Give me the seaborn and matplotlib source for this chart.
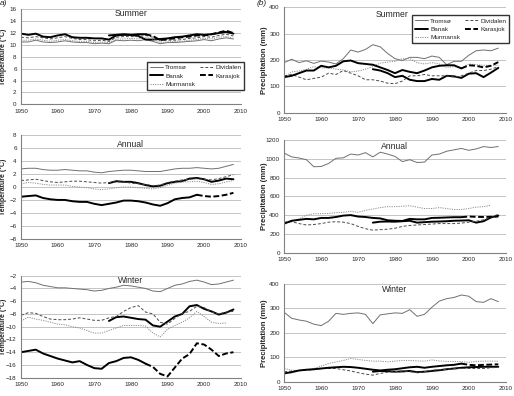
import numpy as np
import pandas as pd
import matplotlib
matplotlib.use("Agg")
import matplotlib.pyplot as plt
from matplotlib.lines import Line2D
import seaborn as sns

nan = np.nan
years = np.arange(1950, 2009, 2)

# --- temperature (deg C) ---
temp_summer = {
    "Tromsø":    [10.5, 10.5, 10.8, 10.5, 10.4, 10.5, 10.7, 10.5, 10.4, 10.4, 10.2, 10.3, 10.2, 10.8, 10.7,
                  10.8, 10.7, 10.9, 10.6, 10.2, 10.4, 10.4, 10.5, 10.6, 10.7, 10.9, 10.7, 11.0, 11.2, 11.0],
    "Murmansk":  [10.8, 10.8, 11.0, 10.8, 10.6, 10.8, 10.9, 10.7, 10.6, 10.6, 10.4, 10.5, 10.4, 11.0, 11.0,
                  11.1, 11.0, 11.3, 11.0, 10.4, 10.5, 10.6, 10.6, 10.8, 10.9, 11.1, 11.0, 11.3, 11.4, 11.1],
    "Dividalen": [11.3, 11.2, 11.4, 11.2, 11.0, 11.2, 11.4, 11.1, 10.9, 10.9, 10.7, 10.8, 10.6, 11.3, 11.4,
                  11.4, 11.4, 11.6, 11.3, 10.7, 10.8, 10.8, 10.9, 11.1, 11.2, 11.4, 11.3, 11.6, 11.8, 11.5],
    "Banak":     [nan] * 12 + [11.6, 11.7, 11.8, 11.7, 11.5, 10.9, 10.9, 11.0, 11.1, 11.3, 11.4, 11.6, 11.8,
                               11.7, 11.8, 12.0, 12.2, 11.9],
    "Karasjok":  [11.9, 11.7, 11.9, 11.4, 11.3, 11.6, 11.8, 11.3, 11.2, 11.2, 11.1, 11.1, 10.9, 11.6, 11.7,
                  11.7, 11.8, 11.8, 11.5, 10.8, 11.0, 11.1, 11.3, 11.4, 11.6, 11.6, 11.8, 12.1, 12.4, 12.0],
}
temp_annual = {
    "Tromsø":    [2.8, 2.9, 2.9, 2.7, 2.6, 2.6, 2.7, 2.6, 2.5, 2.5, 2.3, 2.2, 2.4, 2.5, 2.6,
                  2.6, 2.5, 2.4, 2.4, 2.4, 2.6, 2.8, 2.9, 2.9, 3.0, 2.9, 2.8, 2.9, 3.2, 3.5],
    "Murmansk":  [0.5, 0.7, 0.6, 0.4, 0.3, 0.3, 0.3, 0.1, 0.0, -0.1, -0.3, -0.4, -0.3, -0.1, 0.0,
                  0.0, -0.1, -0.2, -0.3, -0.1, 0.3, 0.6, 0.8, 0.8, 0.9, 0.7, 0.4, 0.5, 0.8, 1.0],
    "Dividalen": [1.0, 1.1, 1.2, 1.0, 0.8, 0.7, 0.8, 0.9, 0.9, 0.8, 0.7, 0.6, 0.7, 0.8, 0.8,
                  0.6, 0.5, 0.4, 0.2, 0.3, 0.7, 0.9, 1.1, 1.2, 1.3, 1.2, 1.1, 1.3, 1.6, 1.9],
    "Banak":     [nan] * 12 + [0.6, 0.9, 0.8, 0.8, 0.6, 0.3, 0.1, 0.2, 0.6, 0.8, 0.9, 1.3, 1.4,
                               1.2, 0.8, 1.0, 1.3, 1.2],
    "Karasjok":  [-1.5, -1.4, -1.3, -1.7, -1.9, -2.0, -2.0, -2.2, -2.3, -2.3, -2.6, -2.8, -2.6, -2.4, -2.1,
                  -2.1, -2.2, -2.4, -2.7, -2.9, -2.5, -1.9, -1.7, -1.6, -1.2, -1.4, -1.5, -1.4, -1.2, -0.9],
}
temp_winter = {
    "Tromsø":    [-3.0, -2.9, -3.1, -3.5, -3.7, -3.9, -3.9, -4.0, -4.1, -4.2, -4.4, -4.3, -4.0, -3.8, -3.5,
                  -3.6, -3.8, -4.0, -4.4, -4.5, -4.0, -3.5, -3.3, -2.9, -2.7, -3.0, -3.4, -3.3, -3.0, -2.7],
    "Murmansk":  [-9.1, -8.5, -8.8, -9.0, -9.3, -9.6, -9.7, -10.0, -10.2, -10.6, -11.0, -11.0, -10.6, -10.2, -9.8,
                  -9.8, -9.8, -9.9, -11.0, -11.6, -10.4, -9.8, -9.3, -8.6, -7.6, -8.4, -9.3, -9.5, -9.4, nan],
    "Dividalen": [-8.2, -7.8, -7.9, -8.4, -8.8, -8.9, -8.9, -8.8, -8.6, -8.8, -9.0, -9.0, -8.6, -8.4, -7.6,
                  -7.0, -6.7, -7.7, -8.0, -9.3, -9.6, -8.7, -7.9, -7.6, -6.8, -7.0, -7.7, -8.0, -7.7, -7.6],
    "Banak":     [nan] * 12 + [-9.1, -8.5, -8.4, -8.6, -8.8, -8.9, -9.8, -10.0, -9.2, -8.4, -8.0, -6.8, -6.6,
                               -7.2, -7.6, -8.1, -7.8, -7.3],
    "Karasjok":  [-14.0, -13.8, -13.6, -14.2, -14.6, -15.0, -15.3, -15.6, -15.4, -16.0, -16.5, -16.6, -15.7, -15.4, -14.9,
                  -14.8, -15.2, -15.8, -16.3, -17.4, -17.8, -16.4, -15.0, -14.3, -12.6, -12.8, -13.6, -14.6, -14.2, -14.0],
}

# --- precipitation (mm) ---
prec_summer = {
    "Tromsø":    [190, 203, 190, 197, 187, 196, 192, 185, 205, 238, 230, 240, 258, 250, 225,
                  205, 198, 210, 210, 205, 215, 210, 182, 195, 195, 218, 235, 238, 235, 245],
    "Murmansk":  [135, 155, 158, 165, 175, 170, 170, 165, 162, 155, 158, 165, 175, 188, 192,
                  195, 205, 205, 190, 185, 190, 185, 172, 175, 170, 185, 182, 180, 180, 180],
    "Dividalen": [140, 145, 135, 125, 130, 135, 150, 145, 160, 150, 140, 125, 125, 120, 112,
                  110, 120, 140, 140, 145, 140, 140, 140, 135, 140, 150, 160, 160, 165, 175],
    "Banak":     [nan] * 12 + [165, 160, 150, 135, 140, 125, 120, 120, 128, 125, 140, 138, 132,
                               148, 150, 135, 152, 170],
    "Karasjok":  [135, 140, 150, 160, 160, 178, 172, 178, 195, 198, 188, 185, 182, 172, 162,
                  150, 162, 155, 150, 160, 172, 178, 180, 180, 168, 180, 178, 172, 178, 192],
}
prec_annual = {
    "Tromsø":    [1060, 1020, 1008, 990, 915, 918, 950, 1005, 1010, 1050, 1040, 1065, 1020, 1070, 1050,
                  1025, 970, 990, 960, 965, 1040, 1050, 1080, 1095, 1110, 1090, 1105, 1130, 1120, 1130],
    "Murmansk":  [320, 330, 360, 400, 415, 415, 418, 425, 430, 440, 430, 450, 465, 480, 490,
                  490, 495, 500, 485, 470, 470, 480, 470, 460, 460, 470, 485, 490, 505, nan],
    "Dividalen": [325, 330, 310, 295, 300, 310, 325, 330, 325, 310, 280, 255, 240, 245, 250,
                  260, 280, 290, 295, 300, 305, 310, 310, 310, 315, 325, 335, 350, 375, 410],
    "Banak":     [nan] * 12 + [320, 330, 332, 330, 335, 340, 320, 325, 330, 332, 335, 340, 342,
                               345, 320, 335, 375, 395],
    "Karasjok":  [310, 340, 350, 360, 355, 370, 370, 380, 395, 400, 385, 380, 370, 365, 345,
                  340, 338, 360, 355, 355, 370, 372, 375, 378, 378, 385, 382, 380, 382, 385],
}
prec_winter = {
    "Tromsø":    [284, 260, 253, 248, 236, 230, 248, 280, 276, 280, 282, 276, 238, 274, 278,
                  282, 280, 295, 268, 276, 305, 330, 340, 345, 355, 350, 328, 325, 340, 328],
    "Murmansk":  [55, 48, 47, 50, 55, 65, 75, 82, 88, 96, 92, 88, 85, 85, 82,
                  85, 88, 88, 86, 85, 90, 86, 84, 84, 83, 80, 84, 85, 85, 85],
    "Dividalen": [42, 44, 46, 48, 50, 55, 55, 55, 50, 45, 38, 32, 28, 35, 40,
                  42, 45, 42, 38, 42, 48, 50, 52, 54, 55, 55, 55, 55, 58, 60],
    "Banak":     [nan] * 12 + [42, 45, 44, 42, 43, 45, 40, 42, 45, 48, 52, 55, 58,
                               60, 61, 62, 62, 62],
    "Karasjok":  [35, 40, 47, 50, 52, 55, 58, 60, 62, 61, 58, 54, 50, 47, 50,
                  52, 56, 60, 62, 58, 62, 65, 68, 70, 75, 70, 68, 70, 71, 72],
}

order = ["Tromsø", "Banak", "Murmansk", "Dividalen", "Karasjok"]
styles = {
    "Tromsø":    dict(color="#707070", lw=0.7, ls="-"),
    "Dividalen": dict(color="#4a4a4a", lw=0.7, ls=(0, (3, 2))),
    "Murmansk":  dict(color="#8c8c8c", lw=0.7, ls=(0, (1.2, 1.2))),
    "Banak":     dict(color="black", lw=1.4, ls="-"),
    "Karasjok":  dict(color="black", lw=1.4, ls=(0, (3, 1.3))),
}

sns.set_style("white")
plt.rcParams["font.family"] = ["Liberation Sans", "DejaVu Sans"]

fig = plt.figure(figsize=(5.14, 3.96), dpi=100)

# (data, title, ylim, ystep, rect, title xy, karasjok solid until)
panels = [
    (temp_summer, "Summer", (0, 16), 2, [0.041, 0.7366, 0.4274, 0.2399], (0.5, 0.955), 1984),
    (temp_annual, "Annual", (-8, 8), 2, [0.041, 0.3972, 0.4274, 0.2611], (0.5, 0.915), 1998),
    (temp_winter, "Winter", (-18, -2), 2, [0.041, 0.0462, 0.4274, 0.2576], (0.5, 0.95), 1984),
    (prec_summer, "Summer", (0, 400), 100, [0.5531, 0.7154, 0.4307, 0.2662], (0.485, 0.935), 1998),
    (prec_annual, "Annual", (0, 1200), 200, [0.5531, 0.3619, 0.4307, 0.2846], (0.5, 0.94), 1998),
    (prec_winter, "Winter", (0, 400), 100, [0.5531, 0.0354, 0.4307, 0.2475], (0.5, 0.94), 1998),
]

axes = []
for i, (data, title, ylim, ystep, rect, txy, cut) in enumerate(panels):
    ax = fig.add_axes(rect)
    axes.append(ax)
    for name in order:
        vals = np.array(data[name], dtype=float)
        st = styles[name]
        if name == "Karasjok":
            m1 = years <= cut
            m2 = years >= cut
            sns.lineplot(x=years[m1], y=vals[m1], ax=ax, color=st["color"], lw=st["lw"], ls="-")
            sns.lineplot(x=years[m2], y=vals[m2], ax=ax, color=st["color"], lw=st["lw"], ls=st["ls"])
        else:
            sns.lineplot(x=years, y=vals, ax=ax, color=st["color"], lw=st["lw"], ls=st["ls"])
    ax.set_xlim(1950, 2010)
    ax.set_ylim(*ylim)
    ax.set_xticks(range(1950, 2011, 10))
    ax.set_yticks(np.arange(ylim[0], ylim[1] + ystep / 2, ystep))
    ax.grid(axis="y", color="#c4c4c4", lw=0.7)
    ax.set_axisbelow(True)
    for s in ["top", "right"]:
        ax.spines[s].set_visible(False)
    for s in ["left", "bottom"]:
        ax.spines[s].set_color("#808080")
        ax.spines[s].set_linewidth(0.8)
    ax.tick_params(axis="both", labelsize=4.5, length=2, width=0.6, color="#808080", pad=1.2)
    ax.text(txy[0], txy[1], title, transform=ax.transAxes, ha="center", va="center", fontsize=6.2)
    if i < 3:
        ax.set_ylabel("Temperature (°C)", fontsize=5, fontweight="bold")
        ax.yaxis.set_label_coords(-0.066, 0.5)
    else:
        ax.set_ylabel("Precipitation (mm)", fontsize=5.5, fontweight="bold")
        ax.yaxis.set_label_coords(-0.072, 0.5)
    ax.set_xlabel("")

# legends built from the plotted styles
handles = [Line2D([], [], color=styles[n]["color"], lw=styles[n]["lw"], ls=styles[n]["ls"]) for n in order]
for ax, loc in [(axes[0], (1.03, 0.48)), (axes[3], (1.03, 0.955))]:
    ax.legend(handles, order, ncol=2, fontsize=4.6, loc="upper right", bbox_to_anchor=loc,
              frameon=True, fancybox=False, edgecolor="#333333", framealpha=1,
              handlelength=2.1, columnspacing=0.7, handletextpad=0.35, borderpad=0.45, labelspacing=0.45)

fig.text(0.0, 1.0, "a)", fontsize=6, style="italic", va="top", ha="left")
fig.text(0.5, 1.0, "(b)", fontsize=6, style="italic", va="top", ha="left")

fig.savefig("out.png", dpi=100)
